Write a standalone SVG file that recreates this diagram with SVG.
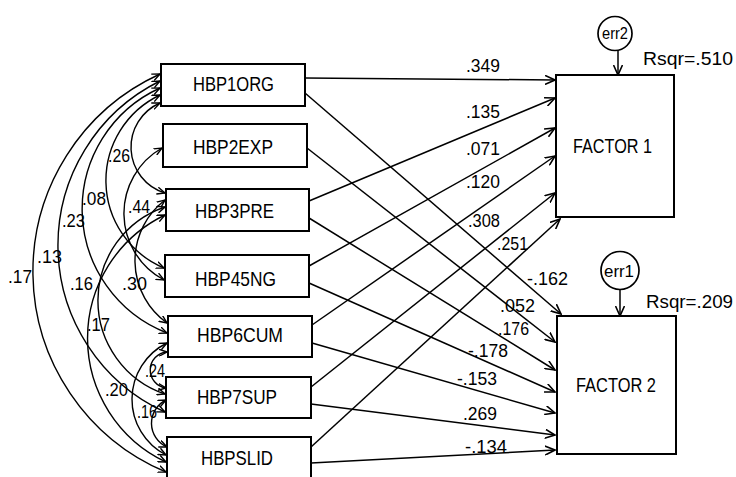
<svg xmlns="http://www.w3.org/2000/svg" width="736" height="477" viewBox="0 0 736 477">
<style>
.box{fill:#fff;stroke:#000;stroke-width:2}
.ln{fill:none;stroke:#000;stroke-width:1.5}
.arr{marker-end:url(#ah)}
.cov{fill:none;stroke:#000;stroke-width:1.4;marker-start:url(#ch);marker-end:url(#ch)}
text{font-family:"Liberation Sans Narrow","Liberation Sans",Arial,sans-serif;fill:#000}
.bl{font-size:21px}
.nl{font-size:18px}
.cl{font-size:19px}
.el{font-size:16px}
</style>
<defs>
<marker id="ah" viewBox="0 0 11 10" refX="10" refY="5" markerWidth="11" markerHeight="10" markerUnits="userSpaceOnUse" orient="auto">
<path d="M0,0.5 L10,5 L0,9.5" fill="none" stroke="#000" stroke-width="1.6"/>
</marker>
<marker id="ch" viewBox="0 0 9 8" refX="8" refY="4" markerWidth="9" markerHeight="8" markerUnits="userSpaceOnUse" orient="auto-start-reverse">
<path d="M0,0.5 L8,4 L0,7.5" fill="none" stroke="#000" stroke-width="1.4"/>
</marker>
</defs>
<rect width="736" height="477" fill="#fff"/>
<g id="connectors">
<line class="ln arr" x1="305" y1="78" x2="555" y2="80"/>
<line class="ln arr" x1="309" y1="201" x2="555" y2="98"/>
<line class="ln arr" x1="309" y1="266" x2="555" y2="128"/>
<line class="ln arr" x1="312" y1="325" x2="555" y2="156"/>
<line class="ln arr" x1="311" y1="387" x2="555" y2="193"/>
<line class="ln arr" x1="311" y1="447" x2="560" y2="219"/>
<line class="ln arr" x1="305" y1="93" x2="561" y2="314"/>
<line class="ln arr" x1="307" y1="148" x2="555" y2="342"/>
<line class="ln arr" x1="309" y1="218" x2="555" y2="370"/>
<line class="ln arr" x1="309" y1="283" x2="555" y2="392"/>
<line class="ln arr" x1="312" y1="343" x2="555" y2="413"/>
<line class="ln arr" x1="311" y1="404" x2="555" y2="435"/>
<line class="ln arr" x1="311" y1="463" x2="555" y2="450"/>
<line class="ln arr" x1="618" y1="50" x2="618" y2="75"/>
<line class="ln arr" x1="620" y1="290" x2="620" y2="316"/>
<path class="cov" d="M160,103 A48,48 0 0 0 165,193"/>
<path class="cov" d="M160,95 A94.8,94.8 0 0 0 164,268"/>
<path class="cov" d="M160,88 A133,133 0 0 0 167,333"/>
<path class="cov" d="M160,81 A183.3,183.3 0 0 0 165,412"/>
<path class="cov" d="M160,74 A217.3,217.3 0 0 0 166,472"/>
<path class="cov" d="M162,148 A75.3,75.3 0 0 0 164,280"/>
<path class="cov" d="M165,200 A76.5,76.5 0 0 0 167,323"/>
<path class="cov" d="M165,207 A98.7,98.7 0 0 0 165,394"/>
<path class="cov" d="M165,215 A136.8,136.8 0 0 0 166,462"/>
<path class="cov" d="M167,343 A62.7,62.7 0 0 0 166,455"/>
<path class="cov" d="M167,352 A18.1,18.1 0 0 0 166,388"/>
<path class="cov" d="M166,400 A25.9,25.9 0 0 0 167,447"/>
</g>
<g id="HBP1ORG"><rect class="box" x="161" y="64" width="144" height="42"/><text class="bl" x="193" y="91" textLength="81" lengthAdjust="spacingAndGlyphs">HBP1ORG</text></g>
<g id="HBP2EXP"><rect class="box" x="163" y="124" width="144" height="43"/><text class="bl" x="193" y="154" textLength="80" lengthAdjust="spacingAndGlyphs">HBP2EXP</text></g>
<g id="HBP3PRE"><rect class="box" x="166" y="189" width="143" height="42"/><text class="bl" x="195" y="218" textLength="79" lengthAdjust="spacingAndGlyphs">HBP3PRE</text></g>
<g id="HBP45NG"><rect class="box" x="165" y="255" width="144" height="42"/><text class="bl" x="195" y="286" textLength="81" lengthAdjust="spacingAndGlyphs">HBP45NG</text></g>
<g id="HBP6CUM"><rect class="box" x="168" y="316" width="144" height="41"/><text class="bl" x="197" y="342" textLength="86" lengthAdjust="spacingAndGlyphs">HBP6CUM</text></g>
<g id="HBP7SUP"><rect class="box" x="166" y="377" width="145" height="41"/><text class="bl" x="197" y="404" textLength="80" lengthAdjust="spacingAndGlyphs">HBP7SUP</text></g>
<g id="HBPSLID"><rect class="box" x="167" y="437" width="144" height="44"/><text class="bl" x="201" y="465" textLength="72" lengthAdjust="spacingAndGlyphs">HBPSLID</text></g>
<g id="FACTOR1"><rect class="box" x="556" y="75" width="118" height="142"/><text class="bl" x="573" y="153" textLength="79" lengthAdjust="spacingAndGlyphs">FACTOR 1</text><text class="cl" x="643" y="65" textLength="90" lengthAdjust="spacingAndGlyphs">Rsqr=.510</text></g>
<g id="FACTOR2"><rect class="box" x="557" y="316" width="119" height="138"/><text class="bl" x="576" y="392" textLength="80" lengthAdjust="spacingAndGlyphs">FACTOR 2</text><text class="cl" x="646" y="308" textLength="87" lengthAdjust="spacingAndGlyphs">Rsqr=.209</text></g>
<g id="err2"><circle cx="615" cy="33.5" r="17" fill="#fff" stroke="#000" stroke-width="1.7"/><text class="el" x="602" y="39" textLength="26" lengthAdjust="spacingAndGlyphs">err2</text></g>
<g id="err1"><circle cx="620" cy="270.5" r="19" fill="#fff" stroke="#000" stroke-width="1.7"/><text class="el" x="604" y="277" textLength="30" lengthAdjust="spacingAndGlyphs">err1</text></g>
<g id="path-labels">
<text class="nl" x="466" y="72" textLength="34" lengthAdjust="spacingAndGlyphs">.349</text>
<text class="nl" x="466" y="118" textLength="34" lengthAdjust="spacingAndGlyphs">.135</text>
<text class="nl" x="466" y="155" textLength="34" lengthAdjust="spacingAndGlyphs">.071</text>
<text class="nl" x="466" y="188" textLength="34" lengthAdjust="spacingAndGlyphs">.120</text>
<text class="nl" x="468" y="227" textLength="32" lengthAdjust="spacingAndGlyphs">.308</text>
<text class="nl" x="497" y="250" textLength="31" lengthAdjust="spacingAndGlyphs">.251</text>
<text class="nl" x="527" y="285" textLength="41" lengthAdjust="spacingAndGlyphs">-.162</text>
<text class="nl" x="500" y="312" textLength="35" lengthAdjust="spacingAndGlyphs">.052</text>
<text class="nl" x="498" y="335" textLength="31" lengthAdjust="spacingAndGlyphs">.176</text>
<text class="nl" x="468" y="357" textLength="40" lengthAdjust="spacingAndGlyphs">-.178</text>
<text class="nl" x="457" y="385" textLength="40" lengthAdjust="spacingAndGlyphs">-.153</text>
<text class="nl" x="463" y="420" textLength="34" lengthAdjust="spacingAndGlyphs">.269</text>
<text class="nl" x="465" y="453" textLength="42" lengthAdjust="spacingAndGlyphs">-.134</text>
</g>
<g id="cov-labels">
<text class="cl" x="108" y="162" textLength="22" lengthAdjust="spacingAndGlyphs">.26</text>
<text class="cl" x="82" y="205" textLength="24" lengthAdjust="spacingAndGlyphs">.08</text>
<text class="cl" x="62" y="227" textLength="23" lengthAdjust="spacingAndGlyphs">.23</text>
<text class="cl" x="128" y="213" textLength="22" lengthAdjust="spacingAndGlyphs">.44</text>
<text class="cl" x="8" y="283" textLength="24" lengthAdjust="spacingAndGlyphs">.17</text>
<text class="cl" x="37" y="263" textLength="25" lengthAdjust="spacingAndGlyphs">.13</text>
<text class="cl" x="70" y="290" textLength="23" lengthAdjust="spacingAndGlyphs">.16</text>
<text class="cl" x="122" y="290" textLength="25" lengthAdjust="spacingAndGlyphs">.30</text>
<text class="cl" x="87" y="331" textLength="23" lengthAdjust="spacingAndGlyphs">.17</text>
<text class="cl" x="105" y="396" textLength="23" lengthAdjust="spacingAndGlyphs">.20</text>
<text class="cl" x="145" y="377" textLength="20" lengthAdjust="spacingAndGlyphs">.24</text>
<text class="cl" x="137" y="418" textLength="20" lengthAdjust="spacingAndGlyphs">.16</text>
</g>
</svg>
